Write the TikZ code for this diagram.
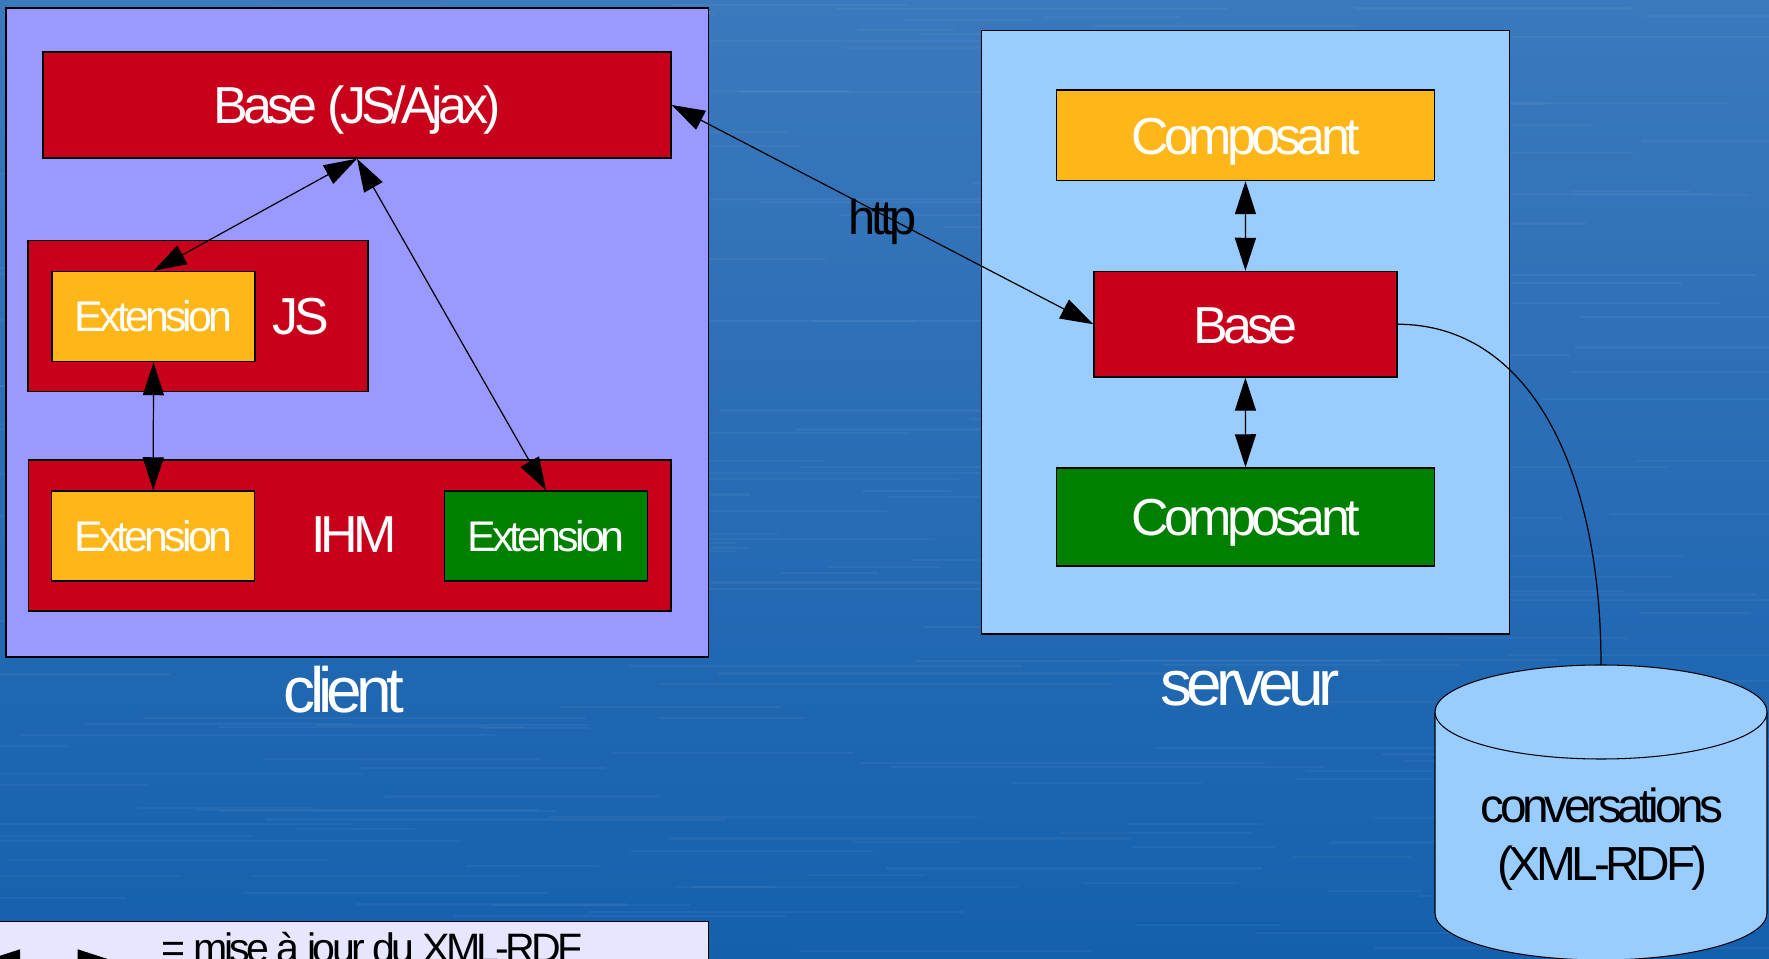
\documentclass[tikz,border=0pt]{standalone}
\usepackage{fontspec}
\setmainfont{Liberation Sans}[LetterSpace=-9]
\usetikzlibrary{arrows.meta}

\definecolor{bgtop}{HTML}{3B79BD}
\definecolor{bgbot}{HTML}{1560AD}
\definecolor{clientbg}{HTML}{9999FF}
\definecolor{serverbg}{HTML}{99CCFF}
\definecolor{legendbg}{HTML}{E6E6FF}
\definecolor{basered}{HTML}{C9001B}
\definecolor{extorange}{HTML}{FFB619}
\definecolor{extgreen}{HTML}{007F00}

\tikzset{
  frame/.style={draw=black, line width=0.4pt, inner sep=0pt},
  box/.style={frame, text=white, font=\fontsize{14.8}{17}\selectfont,
    text height=10.7pt, text depth=0pt},
  boxlbl/.style={text=white, inner sep=0pt, font=\fontsize{14.8}{17}\selectfont},
  extbox/.style={frame, text=white, font=\fontsize{12.2}{14}\selectfont,
    minimum width=2.03cm, minimum height=0.9cm},
  title/.style={text=white, font=\fontsize{18.2}{21}\selectfont, anchor=base},
  link/.style={<->, line width=0.35pt}
}

\begin{document}
\begin{tikzpicture}[>={Triangle[length=9.4pt,width=6pt]}]
\useasboundingbox (0,0) rectangle (17.69,9.58);
\clip (0,0) rectangle (17.69,9.58);

% fond degrade + stries
\shade[top color=bgtop, bottom color=bgbot] (0,0) rectangle (17.69,9.58);
\pgfmathsetseed{42}
\foreach \i in {1,...,220}{
  \pgfmathsetmacro{\ya}{9.58*rnd}
  \pgfmathsetmacro{\xa}{17.69*rnd-1}
  \pgfmathsetmacro{\la}{0.8+4*rnd}
  \draw[white, opacity=0.045, line width=0.6pt] (\xa,\ya) -- ++(\la,0);
}

% client
\node[frame, fill=clientbg, minimum width=7.025cm, minimum height=6.49cm] (clientbox) at (3.5725,6.255) {};
\node[box, fill=basered, minimum width=6.28cm, minimum height=1.06cm] (ajax) at (3.57,8.53) {Base (JS/Ajax)};
\node[frame, fill=basered, minimum width=3.40cm, minimum height=1.515cm] (jsbox) at (1.98,6.42) {};
\node[extbox, fill=extorange] (extjs) at (1.535,6.415) {Extension};
\node[boxlbl] (jslbl) at (3.01,6.41) {JS};
\node[frame, fill=basered, minimum width=6.425cm, minimum height=1.51cm] (ihmbox) at (3.4975,4.225) {};
\node[extbox, fill=extorange] (extihm) at (1.532,4.22) {Extension};
\node[extbox, fill=extgreen] (extvert) at (5.461,4.22) {Extension};
\node[boxlbl] (ihmlbl) at (3.54,4.23) {IHM};
\node[title] (clientlbl) at (3.44,2.45) {client};

% serveur
\node[frame, fill=serverbg, minimum width=5.28cm, minimum height=6.035cm] (srvbox) at (12.455,6.2575) {};
\node[box, fill=extorange, minimum width=3.782cm, minimum height=0.905cm] (compo1) at (12.455,8.2275) {Composant};
\node[box, fill=basered, minimum width=3.028cm, minimum height=1.055cm] (srvbase) at (12.454,6.3375) {Base};
\node[box, fill=extgreen, minimum width=3.782cm, minimum height=0.98cm] (compo2) at (12.455,4.41) {Composant};
\node[title] (srvlbl) at (12.50,2.52) {serveur};

% base de conversations
\draw[fill=serverbg, line width=0.3pt] (14.35,2.46) -- (14.35,0.45)
  arc[start angle=180, end angle=360, x radius=1.66, y radius=0.47] -- (17.67,2.46);
\draw[fill=serverbg, line width=0.3pt] (16.01,2.46) ellipse [x radius=1.66, y radius=0.47];
\coordinate (dbtop) at (16.01,2.93);
\node[font=\fontsize{13.6}{16.3}\selectfont, align=center] (db) at (16.02,1.19) {conversations\\(XML-RDF)};

% liens
\draw[link] (ajax.south) -- (extjs.north);
\draw[link] (ajax.south) -- (extvert.north);
\draw[link] (extjs.south) -- (extihm.north);
\draw[link] (ajax.east) -- node[midway, yshift=-2pt, font=\fontsize{13.9}{16}\selectfont]{http} (srvbase.west);
\draw[link] (compo1.south) -- (srvbase.north);
\draw[link] (srvbase.south) -- (compo2.north);
\draw[line width=0.35pt] (srvbase.east) .. controls +(1.3,0) and +(0,2.0) .. (dbtop);

% legende
\node[frame, fill=legendbg, minimum width=7.3cm, minimum height=0.895cm] (legend) at (3.435,-0.0825) {};
\coordinate (la) at (-0.13,-0.02);
\coordinate (lb) at (1.107,-0.02);
\draw[link] (la) -- (lb);
\node[anchor=base west, inner sep=0pt, font=\fontsize{11.7}{14}\selectfont] (legtxt) at (1.61,-0.05) {= mise à jour du XML-RDF};

\end{tikzpicture}
\end{document}
